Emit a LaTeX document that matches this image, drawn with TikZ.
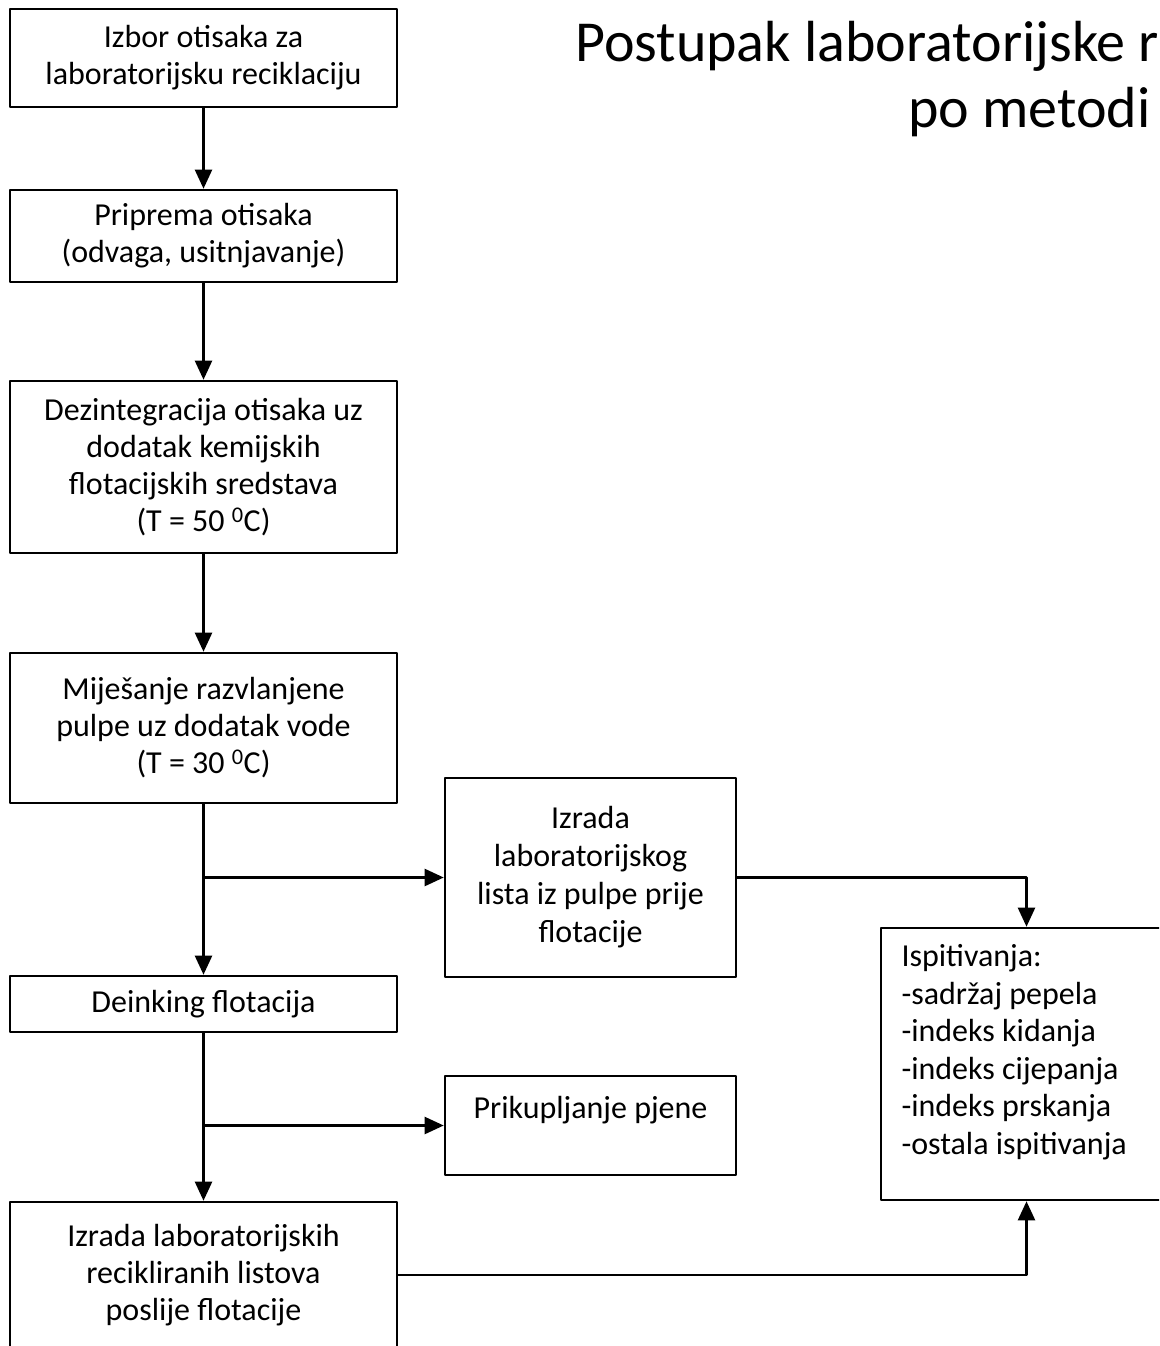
\documentclass[tikz,border=0pt]{standalone}
\usepackage{fontspec}
\setmainfont{Carlito}
\usetikzlibrary{arrows.meta}
\begin{document}
\begin{tikzpicture}[x=1pt, y=-1pt, line join=round, >={Triangle[length=19pt,width=17pt]},
	box/.style={draw, line width=2.6pt, inner sep=0pt, align=center, font=\fontsize{32}{37}\selectfont},
	step box/.style={box, minimum width=387pt},
	arr/.style={->, line width=2.3pt}]
	\useasboundingbox (0,0) rectangle (1159,1346);
	\clip (0,0) rectangle (1159,1346);
	% naslov
	\node[anchor=base west, inner sep=0pt, font=\fontsize{58}{67}\selectfont] (naslov) at (575,62) {Postupak laboratorijske r};
	\node[anchor=base west, inner sep=0pt, font=\fontsize{58}{67}\selectfont] (metoda) at (908,127) {po metodi};
	% glavni niz
	\node[step box, minimum height=98pt] (izbor) at (203.5,58) {Izbor otisaka za\\laboratorijsku reciklaciju};
	\node[step box, minimum height=92pt] (priprema) at (203.5,236) {Priprema otisaka\\(odvaga, usitnjavanje)};
	\node[step box, minimum height=172pt] (dezint) at (203.5,467) {Dezintegracija otisaka uz\\dodatak kemijskih\\flotacijskih sredstava\\(T = 50 \textsuperscript{0}C)};
	\node[step box, minimum height=150pt] (mijes) at (203.5,728) {Miješanje razvlanjene\\pulpe uz dodatak vode\\(T = 30 \textsuperscript{0}C)};
	\node[step box, minimum height=56pt] (deink) at (203.5,1004) {Deinking flotacija};
	\node[step box, minimum height=146pt] (listovi) at (203.5,1275) {Izrada laboratorijskih\\recikliranih listova\\poslije flotacije};
	% bocni
	\node[box, minimum width=291pt, minimum height=199pt, font=\fontsize{32}{38}\selectfont] (list) at (590.5,877.5) {Izrada\\laboratorijskog\\lista iz pulpe prije\\flotacije};
	\node[box, minimum width=291pt, minimum height=99pt] (pjena) at (590.5,1125.5) {Prikupljanje pjene\\[-1pt]\mbox{}};
	\node[box, minimum width=291pt, minimum height=272pt, align=flush left, text width=250pt, font=\fontsize{32}{37.5}\selectfont] (isp) at (1026.5,1064) {Ispitivanja:\\-sadržaj pepela\\-indeks kidanja\\-indeks cijepanja\\-indeks prskanja\\-ostala ispitivanja\\[-8pt]\mbox{}};
	% strelice
	\foreach\a/\b in {izbor/priprema,priprema/dezint,dezint/mijes,mijes/deink,deink/listovi}{\draw[arr] (\a)--(\b);}
	\path (mijes.south |- list.west) coordinate (r1)
		(deink.south |- pjena.west) coordinate (r2);
	\draw[arr] (r1)--(list.west);
	\draw[arr] (r2)--(pjena.west);
	\draw[arr] (list.east) -| (isp.north);
	\draw[arr] (listovi.east) -| (isp.south);
\end{tikzpicture}
\end{document}
